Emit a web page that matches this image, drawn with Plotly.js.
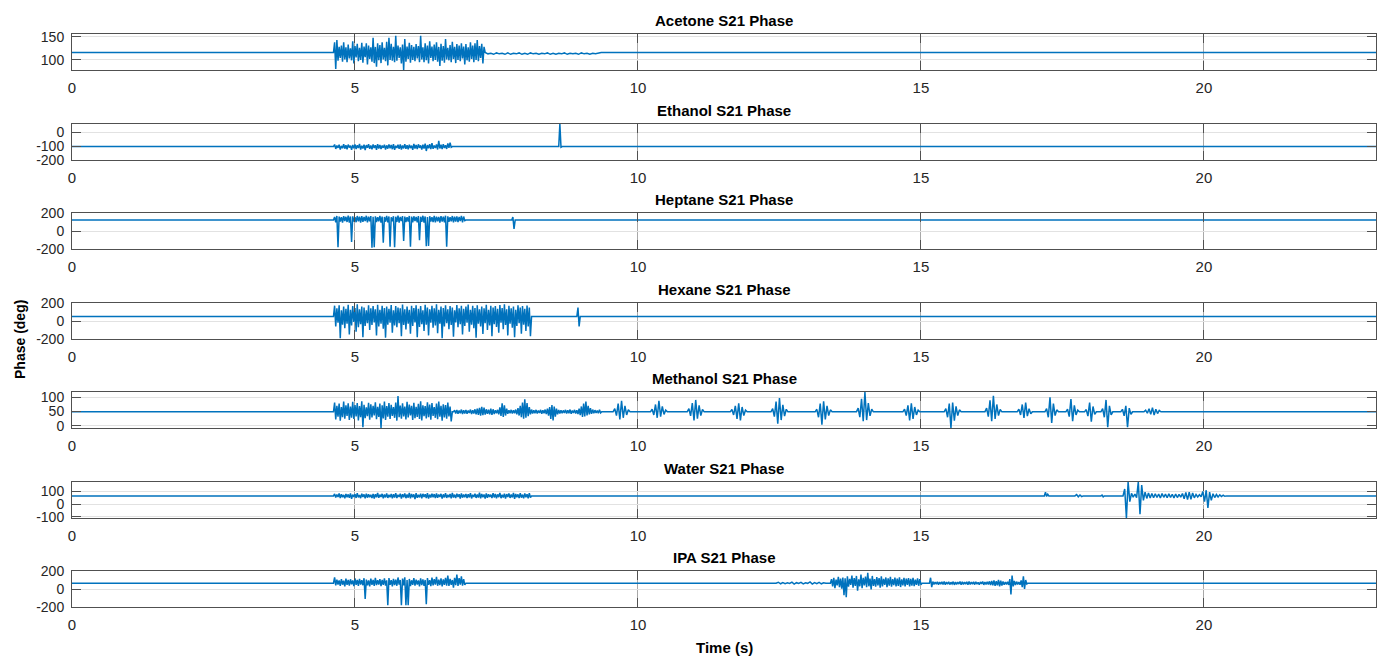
<!DOCTYPE html>
<html><head><meta charset="utf-8">
<script src="https://cdn.plot.ly/plotly-3.0.1.min.js"></script>
<style>html,body{margin:0;padding:0;background:#fff}#chart{width:1382px;height:656px}</style>
</head><body><div id="chart"></div>
<script>
// ---------------- DATA ----------------
const tEnd = 23.04;
const liquids = ["Acetone", "Ethanol", "Heptane", "Hexane", "Methanol", "Water", "IPA"];
const baselines = [116, -103, 125, 50, 49, 65, 65];
const yRanges = [[78, 156], [-200, 60], [-200, 205], [-200, 200], [-8, 119], [-110, 175], [-200, 200]];
const yTicks = [[100, 150], [-200, -100, 0], [-200, 0, 200], [-200, 0, 200], [0, 50, 100], [-100, 0, 100], [-200, 0, 200]];
const xTicks = [0, 5, 10, 15, 20];

// each burst: start time, sample step, sampled phase values (deg)
const acetoneStarts = [4.62, 7.30];
const acetoneSteps = [0.02, 0.05];
const acetoneVals = [
  [138,80,143,98,128,104,131,96,138,101, 127,95,133,103,125,99,140,92,130,105,
   135,97,126,100,137,94,129,106,136,90, 131,102,127,96,148,93,128,85,136,99,
   132,93,138,101,126,97,139,88,148,100, 135,98,128,95,152,98,131,104,127,92,
   133,78,145,96,129,102,137,94,132,100, 128,97,134,103,130,95,152,101,127,95,
   136,99,131,92,140,104,129,97,133,100, 138,96,128,87,135,98,130,94,145,101,
   126,99,132,95,139,102,128,93,134,100, 131,97,136,103,129,90,134,99,127,96,
   138,102,131,95,136,100,143,97,130,104, 135,92,128],
  [113,114,112,115,113,114,112,115,112,114, 113,115,112,114,112,115,113,114,112,114,
   113,115,112,114,112,114,113,115,112,114, 113,114,112,115,113,114,112,114,113,114]
];

const ethanolStarts = [4.62, 8.60];
const ethanolSteps = [0.02, 0.02];
const ethanolVals = [
  [-88,-120,-95,-112,-90,-125,-98,-115,-86,-118, -93,-122,-89,-110,-96,-127,-91,-116,-87,-121,
   -94,-113,-84,-124,-97,-117,-90,-128,-92,-111, -86,-119,-95,-123,-88,-114,-93,-126,-85,-117,
   -91,-121,-96,-112,-89,-125,-94,-118,-87,-115, -92,-122,-85,-127,-97,-113,-90,-120,-88,-124,
   -95,-116,-86,-119,-93,-123,-89,-114,-96,-126, -84,-117,-91,-121,-87,-112,-94,-125,-90,-118,
   -82,-135,-92,-116,-86,-122,-78,-119,-95,-113, -88,-124,-62,-117,-90,-121,-85,-114,-93,-120,
   -80,-112,-75,-108],
  [60, -108]
];

const heptaneStarts = [4.62, 7.77];
const heptaneSteps = [0.02, 0.02];
const heptaneVals = [
  [160,100,172,-180,165,110,158,98,170,115, 162,104,175,96,166,-120,168,108,159,101,
   171,112,163,97,169,106,160,115,174,99, 164,110,170,-185,162,-180,168,103,157,112,
   172,98,165,-130,160,107,173,100,166,-175, 158,111,169,-180,163,104,175,97,161,113,
   170,-110,165,102,159,109,172,-175,164,99, 168,114,160,101,171,-100,163,106,174,98,
   166,-170,161,-165,169,110,158,103,173,100, 165,112,160,97,170,108,163,101,175,-175,
   167,105,159,111,171,99,164,109,168,102, 161,114,172,100,165,118],
  [160, 25]
];

const hexaneStarts = [4.62, 8.92];
const hexaneSteps = [0.02, 0.02];
const hexaneVals = [
  [170,-60,140,-20,175,-190,120,-40,160,-80, 135,-30,180,-150,125,-50,165,-10,145,-120,
   185,-70,130,-35,160,-180,150,-55,120,-25, 175,-100,140,-45,165,-15,130,-160,180,-60,
   125,-30,170,-85,145,-185,160,-40,135,-20, 178,-130,120,-50,165,-70,150,-25,140,-170,
   182,-45,130,-95,160,-30,125,-140,170,-55, 145,-15,175,-180,135,-65,165,-35,120,-110,
   180,-40,150,-160,130,-20,170,-75,140,-50, 185,-135,125,-30,160,-190,145,-60,175,-25,
   130,-90,165,-45,150,-175,120,-15,178,-70, 140,-35,170,-150,135,-55,160,-20,182,-120,
   125,-40,168,-80,145,-185,175,-30,130,-60, 160,-145,140,-25,180,-100,125,-50,170,-170,
   150,-35,165,-65,135,-130,178,-20,145,-90, 185,-45,130,-160,170,-30,140,-75,160,-180,
   125,-55,175,-25,150,-140,165,-40,135,-110, 172,-60,150,-170],
  [150, -60]
];

const methanolStarts = [4.62, 6.74, 9.56, 10.22, 10.87, 11.63, 12.35, 13.13, 13.86, 14.68, 15.41, 16.13, 16.70, 17.19, 17.56, 17.89, 18.18, 18.53, 18.94];
const methanolSteps = [0.02, 0.02, 0.03, 0.03, 0.03, 0.03, 0.03, 0.03, 0.03, 0.03, 0.03, 0.03, 0.03, 0.03, 0.03, 0.03, 0.03, 0.03, 0.03];
const methanolVals = [
  [82,22,70,32,78,18,66,30,85,25, 72,35,79,20,68,28,84,24,73,33,
   80,19,69,30,86,-5,74,27,65,34, 81,21,76,29,70,36,83,23,67,31,
   78,-8,72,26,85,20,69,32,80,24, 74,35,66,28,82,18,105,30,71,25,
   79,33,68,22,84,29,75,36,70,20, 81,27,67,31,77,24,86,19,72,34,
   69,26,83,30,75,21,80,35,66,28, 78,23,85,32,70,18,76,29,73,25,
   82,33,68,15],
  [55,43,56,42,54,44,57,41,55,43, 56,42,54,45,57,41,55,43,58,40,
   60,38,63,36,67,37,64,39,58,42, 57,40,60,38,58,41,55,44,56,40,
   65,35,79,31,72,36,60,42,55,44, 56,43,55,44,57,40,62,36,70,30,
   82,25,93,28,80,34,66,40,57,43, 55,44,56,43,54,45,56,42,55,44,
   57,41,60,36,66,24,73,19,68,32, 60,40,56,43,55,44,54,45,56,43,
   55,44,57,42,54,45,56,43,55,41, 60,37,68,31,78,33,85,36,70,40,
   62,42,57,44,55,45,54,44,56,45],
  [60,36,78,22,88,28,70,38,56],
  [58,38,75,28,88,32,68,40,55],
  [60,35,80,19,91,25,72,36,57],
  [57,38,70,24,79,19,66,36,55],
  [60,32,85,7,98,20,74,34,58],
  [58,30,78,4,86,22,70,36,56],
  [62,30,95,16,119,20,80,35,58],
  [58,36,72,19,79,24,66,38,55],
  [60,30,78,-8,82,18,68,36,56],
  [62,32,90,16,106,24,75,36,57],
  [58,38,75,28,82,34,60,42],
  [60,30,100,10,78,36,56],
  [58,32,94,16,72,38,55],
  [57,34,82,14,68,40],
  [60,30,91,-5,70,38],
  [58,35,70,-5,62,40],
  [55,44,60,40,64,38,58,43,54]
];

const waterStarts = [4.62, 17.18, 17.72, 18.18, 18.57];
const waterSteps = [0.02, 0.02, 0.03, 0.02, 0.03];
const waterVals = [
  [80,52,76,56,84,48,78,55,73,46, 81,54,77,50,85,42,75,57,79,49,
   86,53,72,47,82,56,77,45,83,51, 78,55,74,48,80,44,79,54,88,50,
   75,57,81,46,76,53,84,49,73,55, 80,45,78,52,87,48,74,56,82,43,
   79,54,85,47,76,51,89,46,80,55, 77,40,86,50,74,53,83,45,81,57,
   78,48,87,44,75,52,82,55,79,47, 84,50,76,56,81,43,77,53,86,49,
   73,55,80,46,88,52,75,48,83,56, 78,44,85,51,76,54,81,47,79,53,
   87,45,74,56,82,49,77,52,90,46, 80,55,76,43,84,50,78,57,75,48,
   86,53,81,45,77,55,89,47,74,52, 83,44,79,56,85,49,76,53,88,42,
   80,55,77,48,86,51,75,46,84,54, 79,45,87,52],
  [95, 60, 78],
  [75, 58, 72, 60],
  [72, 58],
  [120,-110,175,20,85,55,80,50,175,-80, 150,30,95,45,88,48,84,50,82,52, 80,48,83,54,79,50,81,53,78,49,
   80,52,77,55,84,42,92,35,95,38, 88,50,76,56,74,58,100,20,110,-30, 95,30,82,52,76,57,73,60,70,62]
];

const ipaStarts = [4.62, 12.44, 13.40, 15.15];
const ipaSteps = [0.02, 0.04, 0.02, 0.02];
const ipaVals = [
  [130,40,105,50,95,35,110,48,92,30, 115,45,100,38,108,52,96,33,118,47,
   102,36,112,50,98,42,120,-110,104,40, 95,28,116,46,100,35,125,44,97,50,
   110,32,102,45,118,38,96,-180,122,47, 99,30,113,44,105,36,128,48,101,-180,
   115,40,130,-180,100,-180,112,33,97,46, 120,38,104,50,96,29,118,43,108,35,
   100,-170,122,45,98,32,126,40,110,48, 135,36,103,42,117,30,108,47,125,38,
   150,34,112,45,100,15,125,42,160,35, 120,48,140,38,110,45],
  [75,58,72,60,68,62,76,55,70,61, 74,57,69,63,78,54,71,60,73,58,70],
  [110,30,125,10,105,40,135,20,115,5, 128,-70,118,-90,140,25,112,45,150,15,
   120,35,145,-20,108,30,160,10,125,40, 138,20,180,30,115,-5,145,35,110,25,
   132,40,120,15,140,30,112,45,128,20, 118,38,135,25,110,42,126,30,115,35,
   130,22,108,40,124,28,116,45,120,30, 112,38,125,32,105,45,118,36,110,48],
  [125,20,82,50,78,54,80,48,76,55, 79,50,83,47,77,53,80,49,75,56,
   81,46,78,52,76,55,82,48,79,51, 77,54,80,47,83,50,76,55,79,49,
   81,53,75,48,78,56,82,46,77,52, 80,50,85,44,90,40,95,35,88,42,
   100,30,92,38,84,48,78,52,80,45, 110,-60,150,30,90,45,82,50,78,48,
   95,20,140,0,100,55]
];

const allStarts = [acetoneStarts, ethanolStarts, heptaneStarts, hexaneStarts, methanolStarts, waterStarts, ipaStarts];
const allSteps = [acetoneSteps, ethanolSteps, heptaneSteps, hexaneSteps, methanolSteps, waterSteps, ipaSteps];
const allVals = [acetoneVals, ethanolVals, heptaneVals, hexaneVals, methanolVals, waterVals, ipaVals];

// ---------------- BUILD ----------------
function buildSeries(base, starts, steps, vals) {
  const x = [0], y = [base];
  starts.forEach((t0, k) => {
    const dt = steps[k];
    x.push(t0); y.push(base);
    vals[k].forEach((v, i) => { x.push(t0 + (i + 1) * dt); y.push(v); });
    x.push(t0 + (vals[k].length + 1) * dt); y.push(base);
  });
  x.push(tEnd); y.push(base);
  return {x, y};
}

const H = 656;
const boxTop = [34, 124, 213, 303, 392, 482, 571];
const boxH = 36;
const font = "Liberation Sans, Arial, Helvetica, sans-serif";

const traces = [];
const layout = {
  width: 1382, height: 656,
  margin: {l: 72, r: 6, t: 0, b: 0},
  paper_bgcolor: "#ffffff", plot_bgcolor: "#ffffff",
  showlegend: false, hovermode: false,
  font: {family: font, color: "#262626", size: 15},
  annotations: []
};

liquids.forEach((name, k) => {
  const s = buildSeries(baselines[k], allStarts[k], allSteps[k], allVals[k]);
  const n = k === 0 ? "" : String(k + 1);
  traces.push({
    type: "scatter", mode: "lines", x: s.x, y: s.y,
    xaxis: "x" + n, yaxis: "y" + n,
    line: {color: "#0072BD", width: 1.5}
  });
  const d0 = 1 - (boxTop[k] + boxH) / H, d1 = 1 - boxTop[k] / H;
  const common = {
    showline: true, linecolor: "#505050", linewidth: 1, mirror: "ticks",
    ticks: "inside", ticklen: 9, tickcolor: "#505050", tickwidth: 1,
    showgrid: true, gridwidth: 1, zeroline: false, fixedrange: true
  };
  layout["xaxis" + n] = Object.assign({}, common, {
    domain: [0, 1], range: [0, tEnd], anchor: "y" + n,
    tickmode: "array", tickvals: xTicks, ticktext: xTicks.map(String),
    gridcolor: "#a8a8a8", ticklabelstandoff: 4,
    tickfont: {family: font, size: 15, color: "#262626"}
  });
  layout["yaxis" + n] = Object.assign({}, common, {
    domain: [d0, d1], range: yRanges[k], anchor: "x" + n,
    tickmode: "array", tickvals: yTicks[k], ticktext: yTicks[k].map(String),
    gridcolor: "#e2e2e2", ticklabelstandoff: 4,
    tickfont: {family: font, size: 14, color: "#262626"}
  });
  layout.annotations.push({
    text: name + " S21 Phase", xref: "paper", yref: "paper",
    x: 0.5, y: 1 - (boxTop[k] - 14) / H, xanchor: "center", yanchor: "middle",
    showarrow: false, font: {family: font, size: 15, color: "#000000", weight: "bold"}
  });
});

layout.annotations.push({
  text: "Phase (deg)", xref: "paper", yref: "paper",
  x: (20 - 72) / 1304, y: 1 - 340 / H, xanchor: "center", yanchor: "middle", textangle: -90,
  showarrow: false, font: {family: font, size: 14, color: "#000000", weight: "bold"}
});
layout.annotations.push({
  text: "Time (s)", xref: "paper", yref: "paper",
  x: (724 - 72) / 1304, y: 1 - 647 / H, xanchor: "center", yanchor: "middle",
  showarrow: false, font: {family: font, size: 15, color: "#000000", weight: "bold"}
});

Plotly.newPlot("chart", traces, layout, {displayModeBar: false, staticPlot: true});
</script></body></html>
